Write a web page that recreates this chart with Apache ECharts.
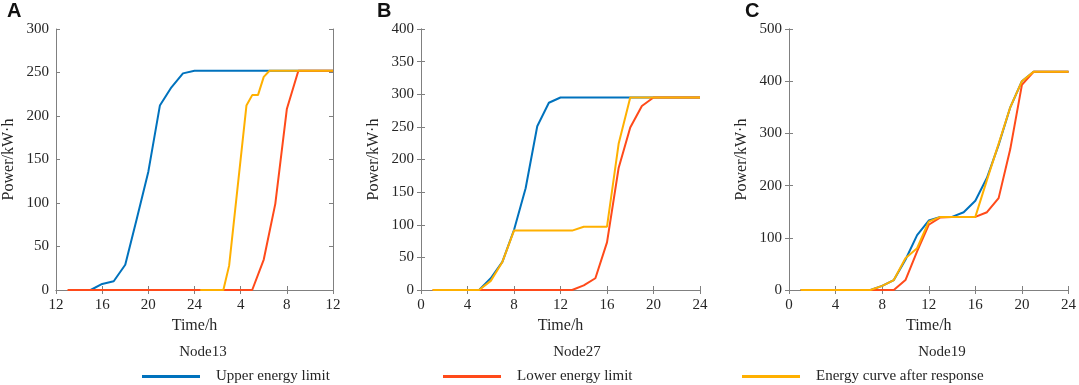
<!DOCTYPE html>
<html>
<head>
<meta charset="utf-8">
<script src="https://cdn.jsdelivr.net/npm/echarts@6/dist/echarts.min.js"></script>
<style>
  html, body { margin: 0; padding: 0; background: #fff; }
  #chart { width: 1079px; height: 385px; }
</style>
</head>
<body>
<div id="chart"></div>
<script>
// Node13 (time runs from 12h to 12h next day, stored as 12..36)
const hoursA = [13, 14, 15, 16, 17, 18, 19, 20, 21, 22, 23, 24, 25, 26, 27, 28, 29, 30, 31, 32, 33, 34, 35, 36];
const upperA = [null, null, 0, 7, 10, 29, 82, 136, 212, 233, 249, 252, 252, 252, 252, 252, 252, 252, 252, 252, 252, 252, 252, 252];
const lowerA = [0, 0, 0, 0, 0, 0, 0, 0, 0, 0, 0, 0, 0, 0, 0, 0, 0, 35, 99, 208, 252, 252, 252, 252];
const responseHoursA = [24.5, 26.5, 27, 28.5, 29, 29.5, 30, 30.5, 36];
const responseA = [0, 0, 28, 212, 224, 224, 245, 252, 252];

// Node27
const hoursB = [1, 2, 3, 4, 5, 6, 7, 8, 9, 10, 11, 12, 13, 14, 15, 16, 17, 18, 19, 20, 21, 22, 23, 24];
const upperB = [null, null, null, null, 0, 18, 43, 92, 156, 251, 287, 295, 295, 295, 295, 295, 295, 295, 295, 295, 295, 295, 295, 295];
const lowerB = [0, 0, 0, 0, 0, 0, 0, 0, 0, 0, 0, 0, 0, 7, 18, 73, 187, 249, 282, 295, 295, 295, 295, 295];
const responseB = [0, 0, 0, 0, 0, 14, 43, 91, 91, 91, 91, 91, 91, 97, 97, 97, 224, 295, 295, 295, 295, 295, 295, 295];

// Node19
const hoursC = hoursB;
const upperC = [0, 0, 0, 0, 0, 0, 0, 8, 19, 58, 105, 133, 140, 140, 149, 171, 215, 278, 350, 400, 418, 418, 418, 418];
const lowerC = [0, 0, 0, 0, 0, 0, 0, 0, 0, 19, 74, 125, 139, 140, 140, 140, 149, 176, 270, 393, 418, 418, 418, 418];
const responseC = [0, 0, 0, 0, 0, 0, 0, 8, 19, 61, 80, 131, 140, 140, 140, 140, 211, 280, 350, 400, 418, 418, 418, 418];

const seriesNames = ['Upper energy limit', 'Lower energy limit', 'Energy curve after response'];
const nodeNames = ['Node13', 'Node27', 'Node19'];
const panelLetters = ['A', 'B', 'C'];

const colors = ['#0072BD', '#FF4A1A', '#FFB000'];
const axisGray = '#808080';
const textColor = '#262626';
const serif = '"Liberation Serif", "Times New Roman", serif';

const zip = (xs, ys) => xs.map((x, i) => [x, ys[i]]);

const chart = echarts.init(document.getElementById('chart'));

// plot boxes
const grids = [
  { left: 55, top: 29, width: 278, height: 261 },
  { left: 421, top: 29, width: 279, height: 261 },
  { left: 789, top: 29, width: 280, height: 261 },
];

const xRanges = [
  { min: 12, max: 36, interval: 4 },
  { min: 0, max: 24, interval: 4 },
  { min: 0, max: 24, interval: 4 },
];
const yRanges = [
  { min: 0, max: 300, interval: 50 },
  { min: 0, max: 400, interval: 50 },
  { min: 0, max: 500, interval: 100 },
];

const xAxes = [];
const yAxes = [];
grids.forEach((g, i) => {
  const xr = xRanges[i];
  xAxes.push({
    type: 'value', gridIndex: i, position: 'bottom',
    min: xr.min, max: xr.max, interval: xr.interval,
    name: 'Time/h', nameLocation: 'middle', nameGap: 26,
    nameTextStyle: { fontFamily: serif, fontSize: 16, color: textColor },
    axisLine: { show: true, lineStyle: { color: axisGray, width: 1 } },
    axisTick: { show: true, inside: true, length: 4, lineStyle: { color: axisGray } },
    axisLabel: {
      fontFamily: serif, fontSize: 15, color: textColor, margin: 8,
      formatter: (v) => (i === 0 && v > 24 ? String(v - 24) : String(v)),
    },
    splitLine: { show: false },
  });
  xAxes.push({
    type: 'value', gridIndex: i, position: 'top',
    min: xr.min, max: xr.max, interval: xr.interval,
    axisLine: { show: true, lineStyle: { color: axisGray, width: 1 } },
    axisTick: { show: true, inside: true, length: 4, lineStyle: { color: axisGray } },
    axisLabel: { show: false },
    splitLine: { show: false },
  });
  const yr = yRanges[i];
  yAxes.push({
    type: 'value', gridIndex: i, position: 'left',
    min: yr.min, max: yr.max, interval: yr.interval,
    name: 'Power/kW·h', nameLocation: 'middle', nameGap: 39,
    nameTextStyle: { fontFamily: serif, fontSize: 16, color: textColor },
    axisLine: { show: true, lineStyle: { color: axisGray, width: 1 } },
    axisTick: { show: true, inside: true, length: 4, lineStyle: { color: axisGray } },
    axisLabel: { fontFamily: serif, fontSize: 15, color: textColor, margin: 7 },
    splitLine: { show: false },
  });
  yAxes.push({
    type: 'value', gridIndex: i, position: 'right',
    min: yr.min, max: yr.max, interval: yr.interval,
    axisLine: { show: true, lineStyle: { color: axisGray, width: 1 } },
    axisTick: { show: true, inside: true, length: 4, lineStyle: { color: axisGray } },
    axisLabel: { show: false },
    splitLine: { show: false },
  });
});

const panelData = [
  [zip(hoursA, upperA), zip(hoursA, lowerA), zip(responseHoursA, responseA)],
  [zip(hoursB, upperB), zip(hoursB, lowerB), zip(hoursB, responseB)],
  [zip(hoursC, upperC), zip(hoursC, lowerC), zip(hoursC, responseC)],
];

const series = [];
panelData.forEach((lines, p) => {
  lines.forEach((data, k) => {
    series.push({
      name: seriesNames[k],
      type: 'line',
      xAxisIndex: p * 2,
      yAxisIndex: p * 2,
      data: data,
      symbol: 'none',
      z: 2 + k,
      lineStyle: { color: colors[k], width: 2 },
      itemStyle: { color: colors[k] },
    });
  });
});

// panel letters and node captions
const titles = [];
const letterLeft = [7, 377, 745];
const captionX = [203, 577, 942];
panelLetters.forEach((t, i) => {
  titles.push({
    text: t, left: letterLeft[i], top: 1, padding: 0,
    textStyle: { fontFamily: '"Liberation Sans", Arial, sans-serif', fontSize: 20, fontWeight: 'bold', color: '#111' },
  });
});
nodeNames.forEach((t, i) => {
  titles.push({
    text: t, left: captionX[i], top: 345, padding: 0, textAlign: 'center',
    textStyle: { fontFamily: serif, fontSize: 15, fontWeight: 'normal', color: textColor },
  });
});

const legendLeft = [142, 443, 742];
const legends = seriesNames.map((n, i) => ({
  data: [n],
  left: legendLeft[i], top: 369, padding: 0,
  icon: 'rect', itemWidth: 58, itemHeight: 3,
  textStyle: { fontFamily: serif, fontSize: 15, color: textColor, padding: [0, 0, 0, 11] },
  selectedMode: false,
}));

chart.setOption({
  animation: false,
  backgroundColor: '#fff',
  title: titles,
  legend: legends,
  grid: grids,
  xAxis: xAxes,
  yAxis: yAxes,
  series: series,
});
</script>
</body>
</html>
